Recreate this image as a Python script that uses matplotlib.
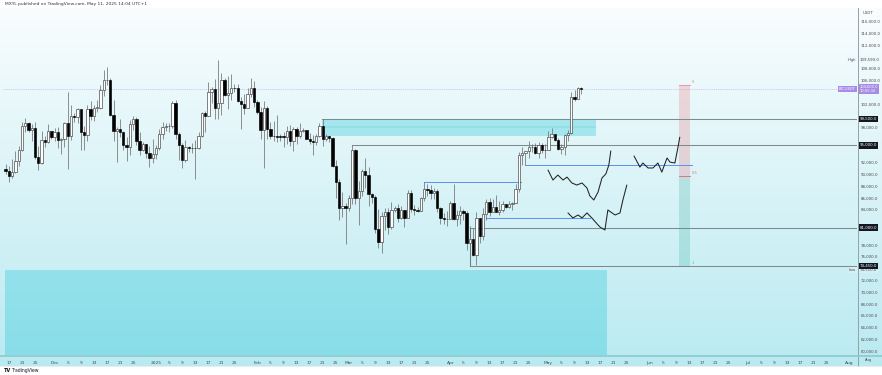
import datetime as dt
import numpy as np
import matplotlib
matplotlib.use("Agg")
import matplotlib.pyplot as plt
import matplotlib.dates as mdates
from matplotlib.patches import Rectangle
from matplotlib.lines import Line2D

# ---------------- data ----------------
start_date = dt.datetime(2024, 11, 16)
first_open = 91060
closes = [
    90580, 89850, 90460, 92310, 94290, 98350, 98890, 97670, 97900, 93010, 91970, 95860, 95640, 97460, 96410,
    97190, 95840, 96000, 98770, 96590, 99920, 99870, 101110, 97340, 96680, 101130, 100000, 101420, 101420, 104460,
    106060, 106130, 100200, 97460, 97760, 97220, 95100, 94690, 98690, 99410, 95800, 94160, 95160, 93740, 92790, 93580,
    94590, 96890, 98110, 98240, 98350, 102250, 96950, 95040, 92480, 94700, 94550, 94520, 94500, 96530, 100500,
    99990, 104080, 104560, 101330, 102260, 106140, 103650, 103960, 104820, 104710, 102620, 102080, 101330, 103730, 104740, 102430,
    100640, 97690, 101400, 97870, 96620, 96550, 96490, 96460, 96450, 97390, 95800, 97870, 96610, 97500,
    97570, 96120, 95770, 95540, 96630, 98300, 96130, 96560, 96280, 91550, 88740, 84350, 84700, 84350,
    86060, 94270, 86120, 87220, 90620, 89960, 86740, 86150, 80730, 78600, 82930, 83680, 81070, 83970, 84340,
    82580, 84030, 82720, 86850, 84170, 84040, 83830, 86080, 87500, 87420, 86900, 87230, 84420, 82650, 82390, 82550,
    85160, 82520, 83100, 83840, 83500, 78370, 79140, 76320, 82620, 79600, 83400, 85290, 83740, 84540, 83630,
    84030, 84940, 84450, 85060, 85170, 87510, 93440, 93690, 93980, 94640, 94640, 93750, 94980, 94280, 94170,
    96490, 96910, 95890, 94320, 94750, 96830, 97030, 103240, 102970, 104700, 104600,
]
highs = [
    91850, 91450, 92600, 94000, 94900, 98980, 99590, 99000, 98650, 98900, 94970, 97400, 96650, 98690, 97460,
    97900, 98150, 96300, 99000, 104090, 101900, 100440, 101350, 101230, 98270, 101890, 102540, 101900, 102650, 105250,
    107780, 108350, 106500, 102800, 98170, 99540, 97400, 96400, 99400, 99960, 99880, 97300, 95500, 95200, 94900, 96150,
    95000, 97800, 98980, 98750, 98810, 102480, 102720, 97250, 95350, 95840, 94970, 95380, 95900, 97350, 100680,
    100870, 105870, 104990, 106300, 109590, 107240, 106400, 106850, 107100, 105470, 105500, 103220, 103780, 104780, 106460, 106010,
    102750, 101460, 102500, 101750, 99000, 99200, 100140, 96880, 97320, 98350, 98480, 98120, 98090, 98830,
    97970, 97700, 97040, 96690, 96900, 98770, 99500, 96950, 96670, 96500, 92500, 89300, 87000, 85120,
    86560, 95000, 94420, 88960, 91000, 92810, 91280, 86880, 86500, 84120, 83620, 84360, 84300, 85300, 84670,
    85000, 84750, 84050, 87450, 87440, 84850, 84570, 86130, 88770, 88500, 88290, 87800, 87520, 84560, 83530, 83900,
    85580, 88500, 83950, 84720, 84250, 83820, 81240, 80860, 83590, 82700, 84300, 85900, 86100, 85800, 86500,
    85500, 85470, 85100, 85600, 85320, 88460, 93880, 94700, 94000, 95760, 95280, 95350, 95600, 95460, 95200,
    97440, 97900, 96950, 96300, 95200, 96900, 97700, 104150, 104350, 104980, 104900,
]
lows = [
    90090, 88720, 89370, 90370, 91500, 94100, 97200, 97200, 95750, 92600, 90790, 91820, 94650, 95380, 96000,
    95770, 94500, 93580, 94660, 91000, 95980, 98950, 98770, 94150, 94260, 95700, 99310, 99210, 100610, 101230,
    103330, 105320, 100000, 95670, 92230, 96400, 94200, 92400, 93400, 97600, 95100, 93330, 94000, 92880, 91320, 92000,
    92750, 94200, 96000, 97500, 97270, 97900, 96100, 92500, 91200, 92200, 93850, 93700, 89250, 94300, 96500,
    97350, 99950, 102280, 99500, 99550, 100100, 103340, 101260, 102750, 104100, 102460, 97780, 100270, 101290, 103300, 101560,
    100280, 96150, 91230, 96150, 96150, 95700, 95620, 95690, 94750, 95260, 94870, 94090, 95220, 96250,
    97230, 96050, 95200, 93390, 95080, 96400, 94830, 95770, 95640, 91300, 86050, 82260, 82750, 78260,
    83800, 85040, 85080, 81500, 86330, 87800, 84660, 85250, 80000, 77460, 76610, 80600, 79940, 80800, 83630,
    82020, 82450, 81130, 82600, 83650, 83170, 83650, 83780, 85500, 86300, 85860, 85800, 83600, 81650, 81560, 81280,
    82430, 82320, 81200, 81660, 82370, 77150, 74510, 76240, 74620, 78450, 78940, 82300, 82950, 83680, 83600,
    83100, 83740, 84300, 84400, 83950, 85140, 87080, 91600, 91660, 92900, 93880, 93580, 92800, 93700, 92900,
    94130, 96300, 95720, 94140, 93510, 93380, 95780, 96880, 102600, 102820, 103800,
]

# drawn levels (price, start, end)
gray_prices = [99500, 95000, 81000, 74450]
gray_starts = ["2025-02-20 20:00", "2025-03-02", "2025-04-07", "2025-04-07"]
blue_prices = [88700, 91660, 82640]
blue_starts = ["2025-03-24", "2025-04-24", "2025-04-12"]
blue_ends = ["2025-04-22 12:00", "2025-06-13 20:00", "2025-05-13 16:00"]
supply_zone = [96600, 99500]
supply_dates = ["2025-02-20 20:00", "2025-05-15 16:00"]
demand_top = 73790
demand_dates = ["2024-11-15 20:00", "2025-05-18 20:00"]
fib_prices = [105280, 74400]
fib_dates = ["2025-06-09 20:00", "2025-06-13 08:00"]
fib_labels = ["0", "0.5", "1"]

# hand-drawn scenario paths (days since 2025-01-01, price)
path_a_days = [119.9, 121.4, 122.9, 124.5, 125.7, 127.2, 128.7, 130.3, 131.8, 132.7, 133.9, 135.2, 136.4, 137.6, 138.5, 139.1]
path_a_price = [90800, 89100, 89950, 89100, 89600, 88600, 88250, 88600, 87750, 86400, 85700, 87050, 89450, 90150, 91650, 94050]
path_b_days = [146.2, 148.0, 148.9, 150.5, 152.0, 153.5, 154.7, 156.3, 157.2, 158.7, 159.6, 160.2]
path_b_price = [93200, 91300, 92000, 91150, 91150, 92000, 90450, 92850, 92150, 92000, 94550, 96400]
path_c_days = [126.0, 127.5, 129.1, 130.3, 131.8, 133.3, 135.2, 135.8, 137.3, 138.2, 140.4, 141.9, 142.8, 144.0]
path_c_price = [83500, 82650, 83150, 82650, 83500, 82650, 81450, 81100, 80600, 84000, 83150, 83500, 85700, 88250]

month_names = ["Dec", "2025", "Feb", "Mar", "Apr", "May", "Jun", "Jul", "Aug"]
month_starts = ["2024-12-01", "2025-01-01", "2025-02-01", "2025-03-01", "2025-04-01",
                "2025-05-01", "2025-06-01", "2025-07-01", "2025-08-01"]
day_marks = [5, 9, 13, 17, 21, 25]
nov_marks = [17, 21, 25]

header = "MXYL published on TradingView.com, May 11, 2025 14:04 UTC+1"

# ---------------- figure ----------------
W, H = 882, 375
fig = plt.figure(figsize=(W / 100, H / 100), dpi=100)
fig.patch.set_facecolor("white")


def fx(p):
    return p / W


def fy(p):
    return 1 - p / H


bg = fig.add_axes([0, fy(366), 1, (366 - 8) / H])
g = np.linspace(0, 1, 256)[:, None, None]
top_c = np.array([249, 253, 254]) / 255
bot_c = np.array([186, 234, 241]) / 255
img = top_c[None, None, :] * (1 - g) + bot_c[None, None, :] * g
bg.imshow(np.repeat(img, 2, axis=1), aspect="auto", extent=[0, 1, 0, 1])
bg.axis("off")

ax = fig.add_axes([fx(3), fy(355), fx(857) - fx(3), (355 - 8) / H])
ax.patch.set_alpha(0)
for s in ax.spines.values():
    s.set_visible(False)

jan1 = mdates.date2num(dt.datetime(2025, 1, 1))
ax.set_xlim(jan1 - 46.8, jan1 + 214.4)
ax.set_ylim(59320, 118380)
x_right = jan1 + 214.4


def dn(s):
    return mdates.datestr2num(s)


dates = mdates.date2num(start_date) + np.arange(len(closes))
opens = [first_open] + closes[:-1]

# zones
ax.add_patch(Rectangle((dn(demand_dates[0]), 59320), dn(demand_dates[1]) - dn(demand_dates[0]),
                       demand_top - 59320, fc=(0.0, 0.74, 0.83, 0.27), ec="none", zorder=1))
ax.add_patch(Rectangle((dn(supply_dates[0]), supply_zone[0]), dn(supply_dates[1]) - dn(supply_dates[0]),
                       supply_zone[1] - supply_zone[0], fc=(0.0, 0.74, 0.83, 0.28), ec="none", zorder=1))
ax.plot([dn(supply_dates[0]), dn(supply_dates[1])], [sum(supply_zone) / 2] * 2, color=(0.4, 0.75, 0.8), lw=0.3, zorder=1)

# fib tool
f0, f1 = fib_prices
fmid = (f0 + f1) / 2
xa, xb = dn(fib_dates[0]), dn(fib_dates[1])
ax.add_patch(Rectangle((xa, fmid), xb - xa, f0 - fmid, fc=(0.95, 0.21, 0.27, 0.18), ec="none", zorder=1))
ax.add_patch(Rectangle((xa, f1), xb - xa, fmid - f1, fc=(0.03, 0.6, 0.5, 0.18), ec="none", zorder=1))
ax.plot([xa, xb], [f0, f0], color="#f08c96", lw=0.6, zorder=2)
ax.plot([xa, xb], [fmid, fmid], color="#f0606e", lw=0.6, zorder=2)
ax.plot([xa, xb], [f1, f1], color="#7cc5a8", lw=0.6, zorder=2)
for lab, lv, col in zip(fib_labels, [f0, fmid, f1], ["#d08a90", "#e0707a", "#5fb08e"]):
    ax.text(xb + 0.6, lv + 500, lab, fontsize=2.6, color=col, ha="left", va="center", zorder=3)

# price line of last close
ax.axhline(closes[-1], color="#b7a9de", lw=0.45, ls=(0, (1.5, 1.5)), zorder=1)

# gray levels
for p, s in zip(gray_prices, gray_starts):
    ax.plot([dn(s), x_right], [p, p], color="#7d8a8e", lw=0.75, zorder=2)
ax.plot([dn(gray_starts[2])] * 2, [gray_prices[3], gray_prices[2]], color="#7d8a8e", lw=0.75, zorder=2)
# blue levels
for p, s, e in zip(blue_prices, blue_starts, blue_ends):
    ax.plot([dn(s), dn(e)], [p, p], color="#5c8fec", lw=0.7, zorder=2)

# candles
for x, o, h, l, c in zip(dates, opens, highs, lows, closes):
    up = c >= o
    ax.plot([x, x], [l, h], color="#727272", lw=0.55, zorder=3, solid_capstyle="butt")
    body = max(abs(c - o), 60)
    ax.add_patch(Rectangle((x - 0.36, min(o, c)), 0.72, body,
                           fc="white" if up else "black",
                           ec="#3c3c3c" if up else "black", lw=0.45, zorder=4))

# hand-drawn paths
for xs, ys in [(path_a_days, path_a_price), (path_b_days, path_b_price), (path_c_days, path_c_price)]:
    ax.plot(jan1 + np.array(xs), ys, color="#222222", lw=0.75, zorder=5,
            solid_joinstyle="round", solid_capstyle="round")

# ---------------- axes / labels ----------------
ticks, tlabels = [], []
for d in nov_marks:
    ticks.append(mdates.date2num(dt.datetime(2024, 11, d)))
    tlabels.append(str(d))
for name, ms in zip(month_names, month_starts):
    m0 = dn(ms)
    ticks.append(m0)
    tlabels.append(name)
    for d in day_marks:
        t = m0 + d - 1
        if t < x_right - 1:
            ticks.append(t)
            tlabels.append(str(d))
ax.set_xticks(ticks)
ax.set_xticklabels(tlabels)
ax.tick_params(axis="x", length=0, labelsize=3.2, pad=4.2, colors="#4a4a4a")

highlight = [closes[-1]] + gray_prices + [max(highs)]
yt = [v for v in range(60000, 116001, 2000) if min(abs(v - h) for h in highlight) > 1000]
ax.yaxis.tick_right()
ax.set_yticks(yt)
ax.set_yticklabels([f"{v:,.1f}" for v in yt])
ax.tick_params(axis="y", length=0, labelsize=2.8, pad=2.6, colors="#4a4a4a")

ytr = ax.get_yaxis_transform()
for p in gray_prices:
    ax.text(1.003, p, f"{p:,.1f}", transform=ytr, fontsize=2.8, color="white", ha="left", va="center",
            bbox=dict(boxstyle="square,pad=0.3", fc="#131722", ec="none"), zorder=10, clip_on=False)
ax.text(1.003, closes[-1], f"{closes[-1]:,.1f}\n10:55:16", transform=ytr, fontsize=2.6, color="white",
        ha="left", va="center", linespacing=1.1,
        bbox=dict(boxstyle="square,pad=0.3", fc="#a78be6", ec="none"), zorder=10, clip_on=False)
ax.text(0.9985, closes[-1], "BTCUSDT", transform=ytr, fontsize=2.6, color="white", ha="right", va="center",
        bbox=dict(boxstyle="square,pad=0.3", fc="#a78be6", ec="none"), zorder=10, clip_on=False)
ax.text(1.003, max(highs), f"{max(highs):,.1f}", transform=ytr, fontsize=2.8, color="#4a4a4a", ha="left",
        va="center", bbox=dict(boxstyle="square,pad=0.3", fc="#eef8fb", ec="none"), zorder=10, clip_on=False)
ax.text(0.9985, max(highs), "High", transform=ytr, fontsize=2.6, color="#4a4a4a", ha="right", va="center",
        bbox=dict(boxstyle="square,pad=0.3", fc="#eef8fb", ec="none"), zorder=10, clip_on=False)
ax.text(0.9985, min(lows) - 700, "Low", transform=ytr, fontsize=2.6, color="#4a4a4a", ha="right", va="center",
        bbox=dict(boxstyle="square,pad=0.3", fc="#d4f0f5", ec="none"), zorder=10, clip_on=False)
ax.text(1.003, min(lows) - 700, f"{min(lows):,.1f}", transform=ytr, fontsize=2.8, color="#4a4a4a", ha="left",
        va="center", bbox=dict(boxstyle="square,pad=0.3", fc="#d4f0f5", ec="none"), zorder=9, clip_on=False)

# frame lines
fig.add_artist(Line2D([fx(857.5), fx(857.5)], [fy(8), fy(366)], color="#8fa3a8", lw=0.7))
fig.add_artist(Line2D([0, 1], [fy(355.6), fy(355.6)], color="#8cc9d2", lw=1.2))
fig.add_artist(Line2D([0, 1], [fy(366), fy(366)], color="#dfe7ea", lw=0.5))

fig.text(fx(868), fy(13), "USDT", fontsize=2.8, color="#4a4a4a", ha="center", va="center")
fig.text(fx(5), fy(4.5), header, fontsize=3.2, color="#333333", ha="left", va="center")
fig.text(fx(4), fy(370.5), "TV", fontsize=3.6, color="#131722", ha="left", va="center", weight="bold")
fig.text(fx(11), fy(370.5), "TradingView", fontsize=3.3, color="#131722", ha="left", va="center")
fig.text(fx(869), fy(360.5), "Aug", fontsize=2.6, color="#4a4a4a", ha="center", va="center")

fig.savefig("out.png", dpi=100)
